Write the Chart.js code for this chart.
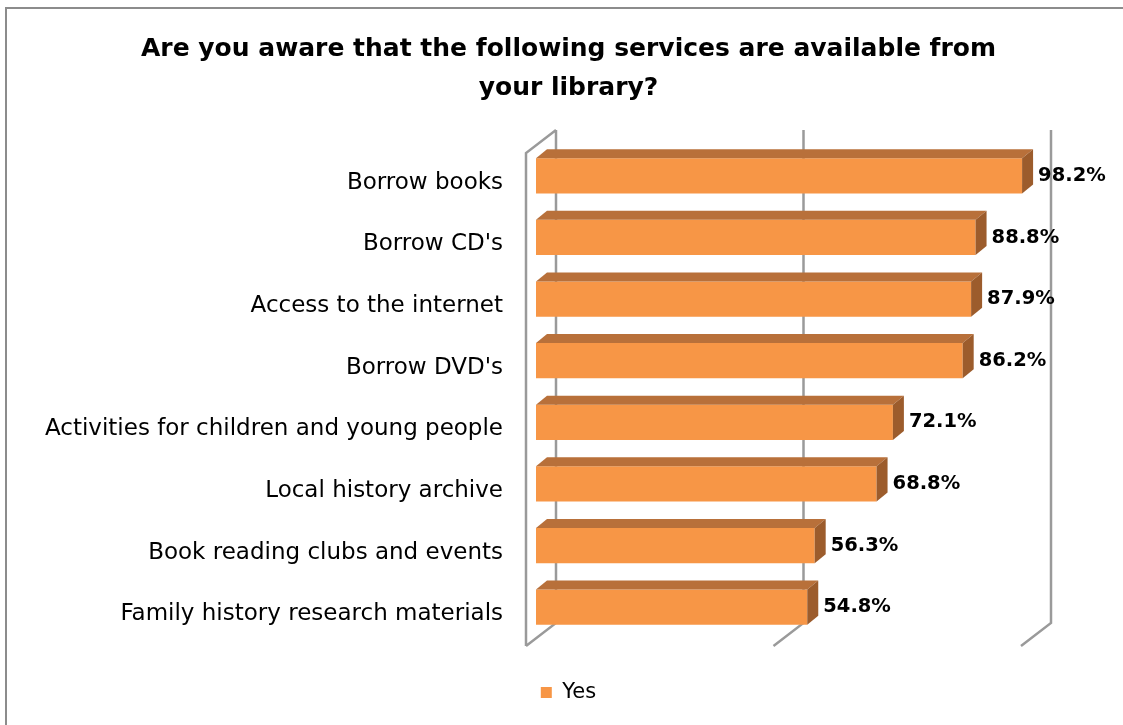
<!DOCTYPE html>
<html>
<head>
<meta charset="utf-8">
<script src="https://cdn.jsdelivr.net/npm/chart.js@4.4.0/dist/chart.umd.min.js"></script>
<style>
  html, body { margin: 0; padding: 0; background: #fff; }
  #wrap { width: 1123px; height: 725px; }
</style>
</head>
<body>
<div id="wrap"><canvas id="chart" width="1123" height="725"></canvas></div>
<script>
// Survey answers: share of respondents aware of each library service
const categories = [
  'Borrow books',
  "Borrow CD's",
  'Access to the internet',
  "Borrow DVD's",
  'Activities for children and young people',
  'Local history archive',
  'Book reading clubs and events',
  'Family history research materials'
];
const yesValues = [98.2, 88.8, 87.9, 86.2, 72.1, 68.8, 56.3, 54.8];
const seriesName = 'Yes';
const gridTicks = [0, 50, 100];
const titleLines = ['Are you aware that the following services are available from', 'your library?'];

const FONT = "'DejaVu Sans', 'Open Sans', sans-serif";
const ORANGE = '#F79646';
const ORANGE_TOP = '#B8703A';
const ORANGE_SIDE = '#9C5C2C';
const WALL = '#9a9a9a';

// pseudo-3D offsets relative to the bars' front plane
const WALL_FRONT = [-10, 8];
const BAR_BACK = [11, -9];
const WALL_BACK = [20, -15];

const framePlugin = {
  id: 'frame',
  beforeDraw(chart) {
    const ctx = chart.ctx;
    ctx.save();
    ctx.fillStyle = '#fff';
    ctx.fillRect(0, 0, chart.width, chart.height);
    ctx.strokeStyle = '#8c8c8c';
    ctx.lineWidth = 2;
    ctx.strokeRect(6, 8, chart.width + 20, chart.height + 20);
    ctx.restore();
  }
};

const wallsPlugin = {
  id: 'walls',
  beforeDatasetsDraw(chart) {
    const { ctx, chartArea: a, scales: { x } } = chart;
    ctx.save();
    ctx.strokeStyle = WALL;
    ctx.lineWidth = 2.5;
    ctx.lineCap = 'butt';
    ctx.beginPath();
    gridTicks.forEach(v => {
      const px = x.getPixelForValue(v);
      const bx = px + WALL_BACK[0];
      ctx.moveTo(bx, a.top + WALL_BACK[1]);
      ctx.lineTo(bx, a.bottom + WALL_BACK[1]);
      ctx.lineTo(px + WALL_FRONT[0], a.bottom + WALL_FRONT[1]);
    });
    // side wall outline at zero
    const x0 = x.getPixelForValue(0);
    ctx.moveTo(x0 + WALL_FRONT[0], a.bottom + WALL_FRONT[1]);
    ctx.lineTo(x0 + WALL_FRONT[0], a.top + WALL_FRONT[1]);
    ctx.lineTo(x0 + WALL_BACK[0], a.top + WALL_BACK[1]);
    ctx.stroke();
    ctx.restore();
  }
};

const barsPlugin = {
  id: 'bars3d',
  afterDatasetsDraw(chart) {
    const ctx = chart.ctx;
    const meta = chart.getDatasetMeta(0);
    const values = chart.data.datasets[0].data;
    ctx.save();
    meta.data.forEach((el, i) => {
      const { x, y, base, height } = el.getProps(['x', 'y', 'base', 'height'], true);
      const top = y - height / 2;
      const bottom = y + height / 2;
      const [dx, dy] = BAR_BACK;
      ctx.fillStyle = ORANGE_TOP;
      ctx.beginPath();
      ctx.moveTo(base, top);
      ctx.lineTo(base + dx, top + dy);
      ctx.lineTo(x + dx, top + dy);
      ctx.lineTo(x, top);
      ctx.closePath();
      ctx.fill();
      ctx.fillStyle = ORANGE_SIDE;
      ctx.beginPath();
      ctx.moveTo(x, top);
      ctx.lineTo(x + dx, top + dy);
      ctx.lineTo(x + dx, bottom + dy);
      ctx.lineTo(x, bottom);
      ctx.closePath();
      ctx.fill();
      // value label
      ctx.fillStyle = '#000';
      ctx.font = `bold 19.5px ${FONT}`;
      ctx.textAlign = 'left';
      ctx.textBaseline = 'middle';
      ctx.fillText(values[i].toFixed(1) + '%', x + dx + 5, y);
    });
    ctx.restore();
  }
};

new Chart(document.getElementById('chart'), {
  type: 'bar',
  data: {
    labels: categories,
    datasets: [{
      label: seriesName,
      data: yesValues,
      backgroundColor: ORANGE,
      borderWidth: 0,
      barPercentage: 0.57,
      categoryPercentage: 1
    }]
  },
  options: {
    indexAxis: 'y',
    responsive: false,
    animation: false,
    devicePixelRatio: 1,
    layout: { padding: { left: 14, top: 0, bottom: 12 } },
    scales: {
      x: {
        display: true,
        min: 0,
        max: 100,
        grid: { display: false, drawTicks: false },
        border: { display: false },
        ticks: { display: false },
        afterFit(s) { s.height = 32; }
      },
      y: {
        grid: { display: false, drawTicks: false },
        border: { display: false },
        ticks: {
          color: '#000',
          font: { family: FONT, size: 23 },
          padding: 33,
          labelOffset: 7
        },
        afterFit(s) { s.width = 522; }
      },
      pad: {
        type: 'linear',
        position: 'right',
        display: true,
        grid: { display: false },
        border: { display: false },
        ticks: { display: false },
        afterFit(s) { s.width = 92; }
      }
    },
    plugins: {
      title: {
        display: true,
        text: titleLines,
        color: '#000',
        font: { family: FONT, size: 25, weight: 'bold', lineHeight: 39 / 25 },
        padding: { top: 30, bottom: 37 }
      },
      legend: {
        position: 'bottom',
        labels: {
          color: '#000',
          font: { family: FONT, size: 21 },
          boxWidth: 11,
          boxHeight: 11,
          padding: 12
        }
      },
      tooltip: { enabled: false }
    }
  },
  plugins: [framePlugin, wallsPlugin, barsPlugin]
});
</script>
</body>
</html>
